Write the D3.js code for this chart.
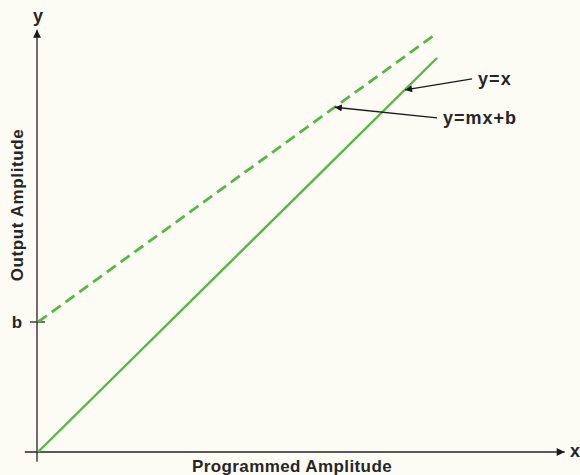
<!DOCTYPE html>
<html><head><meta charset="utf-8">
<script src="https://cdn.jsdelivr.net/npm/d3@7"></script>
<style>
html,body{margin:0;padding:0;background:#fcfcf5;}
svg{display:block;}
text{font-family:"Liberation Sans",Arial,sans-serif;font-weight:bold;fill:#262626;}
</style></head>
<body>
<script>
// Data (normalized amplitude units)
const solidLine = [[0, 0], [1, 1]];            // y = x
const dashedLine = [[0, 0.33], [1, 1.063]];    // y = mx + b
const bValue = 0.33;
const axisLabels = {x: "Programmed Amplitude", y: "Output Amplitude"};
const annotationLabels = ["y=x", "y=mx+b"];
const annotationTargets = [[0.92, 0.919], [0.744, 0.875]];
const annotationTails = [[1.088, 0.947], [1.0, 0.848]];

const W = 580, H = 475;
const svg = d3.select("body").append("svg").attr("width", W).attr("height", H);
const x = d3.scaleLinear().domain([0, 1]).range([38, 437]);
const y = d3.scaleLinear().domain([0, 1]).range([452, 58]);

const defs = svg.append("defs");
defs.append("marker").attr("id", "ah").attr("viewBox", "0 0 10 10")
  .attr("refX", 10).attr("refY", 5).attr("markerWidth", 11).attr("markerHeight", 7)
  .attr("markerUnits", "userSpaceOnUse").attr("orient", "auto")
  .append("path").attr("d", "M0,0 L10,5 L0,10 Z").attr("fill", "#1a1a1a");
defs.append("marker").attr("id", "axh").attr("viewBox", "0 0 10 10")
  .attr("refX", 10).attr("refY", 5).attr("markerWidth", 16).attr("markerHeight", 8)
  .attr("markerUnits", "userSpaceOnUse").attr("orient", "auto")
  .append("path").attr("d", "M0,0 L10,5 L0,10 Z").attr("fill", "#1a1a1a");

const axisColor = "#2b1f28";
// x axis
svg.append("line").attr("x1", x(-0.033)).attr("x2", x(1.32))
  .attr("y1", y(0)).attr("y2", y(0))
  .attr("stroke", axisColor).attr("stroke-width", 1.3).attr("marker-end", "url(#axh)");
// y axis
svg.append("line").attr("x1", x(0) - 1).attr("x2", x(0) - 1)
  .attr("y1", y(-0.025)).attr("y2", y(1.072))
  .attr("stroke", axisColor).attr("stroke-width", 1.3).attr("marker-end", "url(#axh)");
// b tick
svg.append("line").attr("x1", x(0) - 8).attr("x2", x(0) + 7)
  .attr("y1", y(bValue)).attr("y2", y(bValue))
  .attr("stroke", axisColor).attr("stroke-width", 1.3);
svg.append("text").attr("x", x(0) - 21).attr("y", y(bValue)).attr("dy", "0.35em")
  .attr("text-anchor", "middle").attr("font-size", 17).text("b");

const line = d3.line().x(d => x(d[0])).y(d => y(d[1]));
const green = "#55b843";
svg.append("path").attr("d", line(solidLine)).attr("fill", "none")
  .attr("stroke", green).attr("stroke-width", 2.4);
svg.append("path").attr("d", line(dashedLine)).attr("fill", "none")
  .attr("stroke", green).attr("stroke-width", 2.8).attr("stroke-dasharray", "11,6");

// axis name labels
svg.append("text").attr("x", x(0)).attr("y", 22).attr("text-anchor", "middle")
  .attr("font-size", 18).text("y");
svg.append("text").attr("x", 575).attr("y", y(0)).attr("dy", "0.3em")
  .attr("text-anchor", "middle").attr("font-size", 18).text("x");
svg.append("text").attr("x", 292).attr("y", 472).attr("text-anchor", "middle")
  .attr("font-size", 17).attr("letter-spacing", 0.4).text(axisLabels.x);
svg.append("text").attr("transform", "translate(23,205) rotate(-90)")
  .attr("text-anchor", "middle").attr("font-size", 17).attr("letter-spacing", 0.6).text(axisLabels.y);

// annotations
annotationLabels.forEach((lab, i) => {
  const t = annotationTargets[i], s = annotationTails[i];
  svg.append("line").attr("x1", x(s[0])).attr("y1", y(s[1]))
    .attr("x2", x(t[0])).attr("y2", y(t[1]))
    .attr("stroke", "#1a1a1a").attr("stroke-width", 1.4).attr("marker-end", "url(#ah)");
  svg.append("text").attr("x", x(s[0]) + 6).attr("y", y(s[1])).attr("dy", "0.32em")
    .attr("font-size", 18).attr("letter-spacing", 1).text(lab);
});
</script>
</body></html>
